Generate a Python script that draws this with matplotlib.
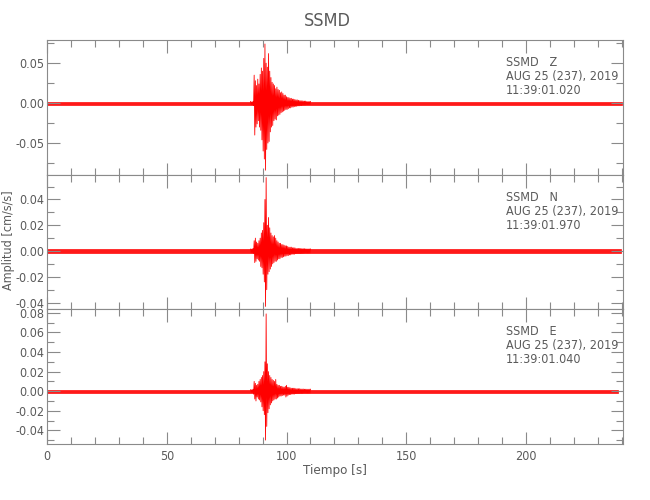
import matplotlib
matplotlib.use('Agg')
import matplotlib.pyplot as plt
import numpy as np
from matplotlib.ticker import MultipleLocator, FormatStrFormatter

# station / header text
station = 'SSMD'
components = ['Z', 'N', 'E']
date_text = 'AUG 25 (237), 2019'
start_times = ['11:39:01.020', '11:39:01.970', '11:39:01.040']

# background noise band: start/end time (s) and half width per component
noise_t = [[0.0, 240.0], [0.0, 239.5], [0.0, 238.5]]
noise_half = [0.0019, 0.0012, 0.0015]

# event window sampled every 0.25 s from 85 to 110 s (signed peak values)
event_t0 = 85.0
event_dt = 0.25
event_z = [0.002, -0.002, 0.0015, -0.002, 0.002, -0.003, 0.035, -0.040,
           0.028, -0.030, 0.022, -0.026, 0.030, -0.022, 0.024, -0.030,
           0.036, -0.034, 0.044, -0.046, 0.040, -0.060, 0.056, -0.070,
           0.074, -0.084, 0.050, -0.058, 0.045, -0.050, 0.062, -0.048,
           0.040, -0.036, 0.032, -0.030, 0.026, -0.028, 0.024, -0.022,
           0.022, -0.020, 0.018, -0.021, 0.020, -0.016, 0.017, -0.015,
           0.016, -0.014, 0.013, -0.012, 0.014, -0.011, 0.012, -0.010,
           0.010, -0.009, 0.010, -0.008, 0.008, -0.008, 0.007, -0.007,
           0.007, -0.006, 0.006, -0.006, 0.006, -0.005, 0.005, -0.005,
           0.005, -0.0045, 0.0045, -0.004, 0.004, -0.004, 0.004, -0.0035,
           0.0035, -0.0035, 0.003, -0.003, 0.003, -0.003, 0.003, -0.0025,
           0.0025, -0.0025, 0.0025, -0.0025, 0.0025, -0.002, 0.002, -0.002,
           0.002, -0.002, 0.002, -0.002, 0.002]
event_n = [0.0015, -0.0015, 0.0015, -0.0015, 0.002, -0.002, 0.008, -0.009,
           0.010, -0.008, 0.007, -0.006, 0.006, -0.007, 0.008, -0.008,
           0.010, -0.012, 0.014, -0.013, 0.016, -0.018, 0.022, -0.024,
           0.040, -0.043, 0.057, -0.030, 0.020, -0.018, 0.026, -0.016,
           0.018, -0.014, 0.014, -0.012, 0.012, -0.010, 0.011, -0.009,
           0.012, -0.008, 0.010, -0.008, 0.008, -0.007, 0.007, -0.006,
           0.006, -0.006, 0.006, -0.005, 0.005, -0.005, 0.005, -0.0045,
           0.0045, -0.004, 0.004, -0.004, 0.004, -0.0035, 0.0035, -0.0035,
           0.003, -0.003, 0.003, -0.003, 0.003, -0.0025, 0.0025, -0.0025,
           0.0025, -0.0025, 0.0025, -0.002, 0.002, -0.002, 0.002, -0.002,
           0.002, -0.002, 0.002, -0.002, 0.002, -0.0018, 0.0018, -0.0018,
           0.0018, -0.0018, 0.0018, -0.0016, 0.0016, -0.0016, 0.0016, -0.0016,
           0.0016, -0.0016, 0.0016, -0.0016, 0.0016]
event_e = [0.0015, -0.0015, 0.0015, -0.0015, 0.002, -0.003, 0.010, -0.008,
           0.008, -0.010, 0.006, -0.006, 0.007, -0.008, 0.010, -0.009,
           0.012, -0.011, 0.014, -0.016, 0.016, -0.020, 0.020, -0.024,
           0.030, -0.050, 0.079, -0.036, 0.028, -0.022, 0.020, -0.018,
           0.016, -0.014, 0.014, -0.012, 0.012, -0.010, 0.011, -0.009,
           0.010, -0.008, 0.012, -0.008, 0.007, -0.007, 0.006, -0.006,
           0.006, -0.005, 0.005, -0.005, 0.005, -0.0045, 0.0045, -0.004,
           0.004, -0.004, 0.005, -0.006, 0.006, -0.005, 0.004, -0.004,
           0.004, -0.0035, 0.0035, -0.0035, 0.003, -0.003, 0.003, -0.003,
           0.003, -0.003, 0.003, -0.0025, 0.0025, -0.0025, 0.0025, -0.0025,
           0.0025, -0.0025, 0.0025, -0.0022, 0.0022, -0.0022, 0.0022, -0.0022,
           0.0022, -0.002, 0.002, -0.002, 0.002, -0.002, 0.002, -0.002,
           0.002, -0.002, 0.002, -0.002, 0.002]
events = [event_z, event_n, event_e]

# axis limits and ticks per panel
y_limits = [(-0.090, 0.079), (-0.045, 0.059), (-0.054, 0.084)]
y_major = [0.05, 0.02, 0.02]
y_minor = [0.025, 0.01, 0.01]
x_limits = (0, 240.5)

plt.rcParams['font.family'] = ['DejaVu Sans']
plt.rcParams['font.stretch'] = 'condensed'
plt.rcParams['axes.unicode_minus'] = False
text_gray = '#5a5a5a'
axis_gray = '#8a8a8a'
fs = 9

fig = plt.figure(figsize=(6.5, 5.0), dpi=100)
left, width = 47 / 650, 576 / 650
tops = [40, 175, 309]
bottoms = [175, 309, 444]

for i in range(3):
    y0 = 1 - bottoms[i] / 500
    h = (bottoms[i] - tops[i]) / 500
    ax = fig.add_axes([left, y0, width, h])

    ax.fill_between(noise_t[i], -noise_half[i], noise_half[i],
                    color='#ff0000', lw=0.5, alpha=0.9)
    t = event_t0 + event_dt * np.arange(len(events[i]))
    ax.plot(t, events[i], color='#ff0000', lw=0.6)

    ax.set_xlim(x_limits)
    ax.set_ylim(y_limits[i])
    ax.xaxis.set_major_locator(MultipleLocator(50))
    ax.xaxis.set_minor_locator(MultipleLocator(10))
    ax.yaxis.set_major_locator(MultipleLocator(y_major[i]))
    ax.yaxis.set_minor_locator(MultipleLocator(y_minor[i]))
    ax.yaxis.set_major_formatter(FormatStrFormatter('%.2f'))
    ax.tick_params(which='both', direction='in', top=True, right=True,
                   color=axis_gray, labelcolor=text_gray, labelsize=fs, pad=2)
    ax.tick_params(which='major', length=9, width=0.8)
    ax.tick_params(which='minor', length=5, width=0.8)
    for sp in ax.spines.values():
        sp.set_color(axis_gray)
        sp.set_linewidth(0.8)
    if i < 2:
        ax.tick_params(labelbottom=False)
    else:
        ax.tick_params(axis='x', pad=4)
        ax.set_xlabel('Tiempo [s]', color=text_gray, fontsize=fs + 0.5, labelpad=1)

    ax.text(0.797, 0.88, f'{station}   {components[i]}\n{date_text}\n{start_times[i]}',
            transform=ax.transAxes, ha='left', va='top', color=text_gray,
            fontsize=fs, linespacing=1.1)

fig.text(0.503, 0.958, station, ha='center', va='center',
         color=text_gray, fontsize=13)
fig.text(0.013, 0.52, 'Amplitud [cm/s/s]', rotation=90, ha='center',
         va='center', color=text_gray, fontsize=fs)

fig.savefig('out.png', dpi=100)
